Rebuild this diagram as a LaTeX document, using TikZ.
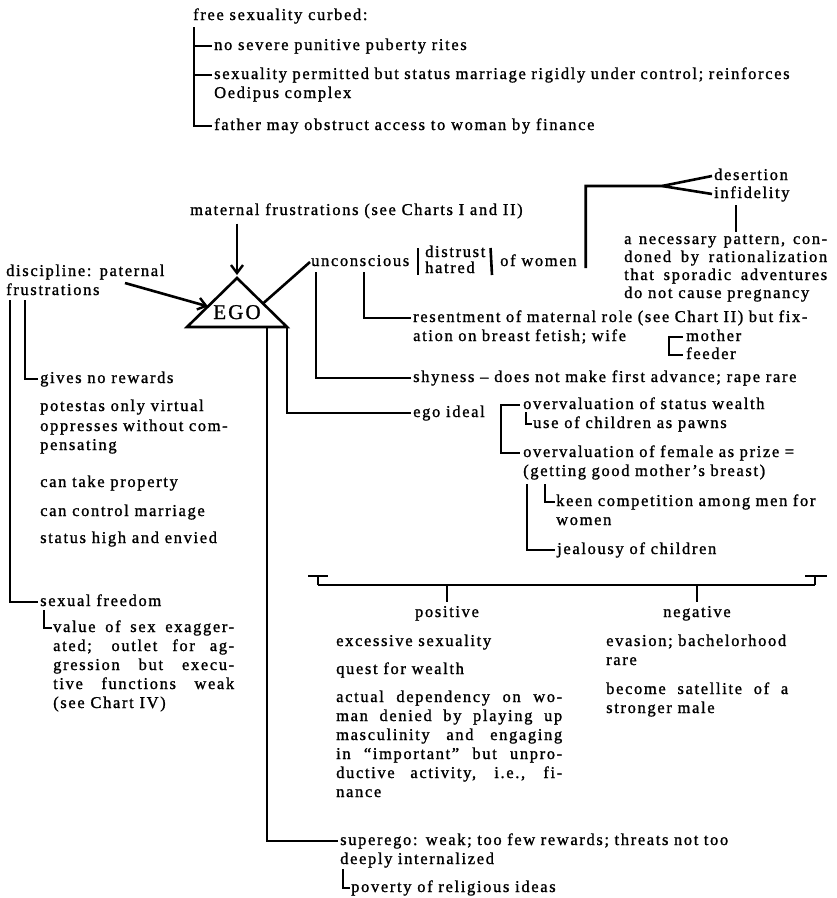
\documentclass[tikz,border=0pt]{standalone}
\usepackage{fontspec}
\setmainfont{Liberation Serif}[LetterSpace=10,FakeBold=1.2]
\usetikzlibrary{arrows.meta,calc}
\tolerance=9999
\hbadness=10000
\hfuzz=30pt
\begin{document}
\begin{tikzpicture}[x=1pt,y=-1pt,
  t/.style={inner sep=0pt, anchor=base west, align=left, font=\fontsize{16.5}{19}\selectfont},
  tw/.style={t, text width=#1},
  tj/.style={t, text width=#1, align=justify},
  ln/.style={line width=2.6pt},
  arr/.style={ln, -{Straight Barb[length=8pt,width=12pt,line width=2.4pt]}}
]
\fill[white] (0,0) rectangle (837,898);
\useasboundingbox (0,0) rectangle (837,898);

% ---------- top block
\node[t] (fsc) at (193,20) {free sexuality curbed:};
\node[t] (nos) at (214,50) {no severe punitive puberty rites};
\node[tw=620pt] (spm) at (214,79) {\hangindent=14pt\hangafter=1 sexuality permitted but status marriage rigidly under control; reinforces\\Oedipus complex};
\node[t] (fat) at (214,130) {father may obstruct access to woman by finance};
\coordinate (tb) at (194,27);
\draw[ln] (tb) |- ([xshift=-2pt,yshift=4pt]fat.base west);
\draw[ln] ($(nos.base west)+(-20,-4)$) -- ($(nos.base west)+(-2,-4)$);
\draw[ln] ($(spm.base west)+(-20,-4)$) -- ($(spm.base west)+(-2,-4)$);

% ---------- maternal frustrations and EGO
\node[t] (mat) at (190,215) {maternal frustrations (see Charts I and II)};
\coordinate (apex) at (237,278);
\coordinate (bl) at (187,327);
\coordinate (br) at (287,327);
\draw[ln, line join=miter] (apex) -- (bl) -- (br) -- cycle;
\node[inner sep=0pt, anchor=base, font=\fontsize{21}{21}\selectfont] (ego) at (237,319) {EGO};
\draw[arr] ($(mat.south -| apex)+(0,5)$) -- ($(apex)+(0,-3)$);

% ---------- discipline
\node[tw=200pt] (dis) at (6,276) {discipline: paternal\\frustrations};
\draw[arr] ($(dis.base west)+(119,7)$) -- ($(bl)!0.42!(apex)$);
\coordinate (lA) at (10,300);
\coordinate (lB) at (25,300);
\node[t] (gnr) at (40,383) {gives no rewards};
\node[t] (pot) at (40,411) {potestas only virtual};
\node[tw=200pt] (opp) at (40,431) {\hangindent=14pt\hangafter=1 oppresses without com-\\pensating};
\node[t] (ctp) at (40,487) {can take property};
\node[t] (ccm) at (40,516) {can control marriage};
\node[t] (shi) at (40,543) {status high and envied};
\node[t] (sfr) at (40,606) {sexual freedom};
\node[tj=181pt] (vos) at (53,632) {value of sex exagger-\linebreak ated; outlet for ag-\linebreak gression but execu-\linebreak tive functions weak\linebreak (see Chart IV)};
\draw[ln] (lA) |- ([xshift=-2pt,yshift=4pt]sfr.base west);
\draw[ln] (lB) |- ([xshift=-2pt,yshift=4pt]gnr.base west);
\draw[ln] ($(sfr.base west)+(4,4)$) |- ([xshift=-1pt,yshift=4pt]vos.base west);

% ---------- unconscious
\node[t] (unc) at (311,266) {unconscious};
\node[t] (dtr) at (425,257) {distrust};
\node[t] (hat) at (425,273) {hatred};
\node[t] (wom) at (500,266) {of women};
\draw[ln] ($(apex)!0.52!(br)$) -- ([xshift=-1pt,yshift=4pt]unc.base west);
\draw[ln] ($(dtr.base west)+(-7,-9)$) -- ($(hat.base west)+(-7,2)$);
\draw[ln] ($(dtr.base east)+(5,-9)$) -- ($(hat.base west)+(67,2)$);

% fork to desertion / infidelity
\node[t] (des) at (714,180) {desertion};
\node[t] (inf) at (714,198) {infidelity};
\coordinate (fk) at (662,186);
\draw[ln] ($(wom.base east)+(9,2)$) |- (fk) -- ([xshift=-2pt,yshift=4pt]des.base west);
\draw[ln] (fk) -- ([xshift=-2pt,yshift=4pt]inf.base west);
\node[tj=203pt, font=\fontsize{16.5}{18}\selectfont] (nec) at (624,244) {a necessary pattern, con-\linebreak doned by rationalization\linebreak that sporadic adventures\linebreak do not cause pregnancy};
\coordinate (iv) at ($(inf.base west)+(22,7)$);
\draw[ln, shorten >=3pt] (iv) -- (iv |- nec.north);

% resentment
\node[tw=430pt] (res) at (413,322) {\hangindent=19pt\hangafter=1 resentment of maternal role (see Chart II) but fix-\\ation on breast fetish; wife};
\draw[ln] ($(unc.south west)+(53,6)$) |- ([xshift=-2pt,yshift=4pt]res.base west);
\node[t] (mot) at (686,341) {mother};
\node[t] (fee) at (686,359) {feeder};
\draw[ln] ([xshift=-3pt,yshift=4pt]mot.base west) -- ++(-14pt,0) |- ([xshift=-3pt,yshift=4pt]fee.base west);

% shyness
\node[t] (shy) at (413,382) {shyness -- does not make first advance; rape rare};
\draw[ln] ($(unc.south west)+(5,6)$) |- ([xshift=-2pt,yshift=4pt]shy.base west);

% ego ideal
\node[t] (egi) at (413,417) {ego ideal};
\draw[ln] (br) |- ([xshift=-2pt,yshift=4pt]egi.base west);
\node[t] (ovs) at (523,409) {overvaluation of status wealth};
\node[t] (use) at (533,428) {use of children as pawns};
\node[tw=320pt] (ovf) at (523,457) {overvaluation of female as prize =\\(getting good mother’s breast)};
\draw[ln] ([xshift=-3pt,yshift=4pt]ovs.base west) -- ++(-19pt,0) |- ([xshift=-3pt,yshift=4pt]ovf.base west);
\draw[ln] ($(ovs.base west)+(3,3)$) |- ([xshift=-1pt,yshift=4pt]use.base west);
\node[tw=300pt] (kee) at (556,506) {\hangindent=20pt\hangafter=1 keen competition among men for\\women};
\draw[ln] ($(ovf.base west)+(22,27)$) |- ([xshift=-1pt,yshift=4pt]kee.base west);
\node[t] (jea) at (557,554) {jealousy of children};
\draw[ln] ($(ovf.base west)+(4,27)$) |- ([xshift=-2pt,yshift=4pt]jea.base west);

% ---------- bracket: positive / negative
\coordinate (bkL) at (318,585);
\coordinate (bkR) at (815,585);
\draw[ln] (bkL) -- (bkR);
\draw[ln] (bkL) -- ($(bkL)+(0,-9)$);
\draw[ln] ($(bkL)+(-10,-9)$) -- ($(bkL)+(10,-9)$);
\draw[ln] (bkR) -- ($(bkR)+(0,-9)$);
\draw[ln] ($(bkR)+(-10,-9)$) -- ($(bkR)+(12,-9)$);
\node[t, anchor=base] (pos) at (447,617) {positive};
\node[t, anchor=base] (neg) at (697,617) {negative};
\draw[ln, shorten >=4pt] (pos.north |- bkL) -- (pos.north);
\draw[ln, shorten >=4pt] (neg.north |- bkL) -- (neg.north);

\node[t] (exs) at (336,646) {excessive sexuality};
\node[t] (qfw) at (336,674) {quest for wealth};
\node[tj=226pt] (act) at (336,702) {\hangindent=15pt\hangafter=1 actual dependency on wo-\linebreak man denied by playing up\linebreak masculinity and engaging\linebreak in “important” but unpro-\linebreak ductive activity, i.e., fi-\linebreak nance};
\node[tw=186pt] (eva) at (606,646) {\hangindent=17pt\hangafter=1 evasion; bachelorhood\\rare};
\node[tj=182pt] (bec) at (606,694) {\hangindent=17pt\hangafter=1 become satellite of a\linebreak stronger male};

% ---------- superego
\node[tw=480pt] (sup) at (340,845) {superego: weak; too few rewards; threats not too\\deeply internalized};
\node[t] (pov) at (351,892) {poverty of religious ideas};
\draw[ln] ($(bl)!0.8!(br)$) |- ([xshift=-2pt,yshift=4pt]sup.base west);
\draw[ln] ($(sup.base west)+(3,24)$) |- ([xshift=-1pt,yshift=4pt]pov.base west);
\end{tikzpicture}
\end{document}
